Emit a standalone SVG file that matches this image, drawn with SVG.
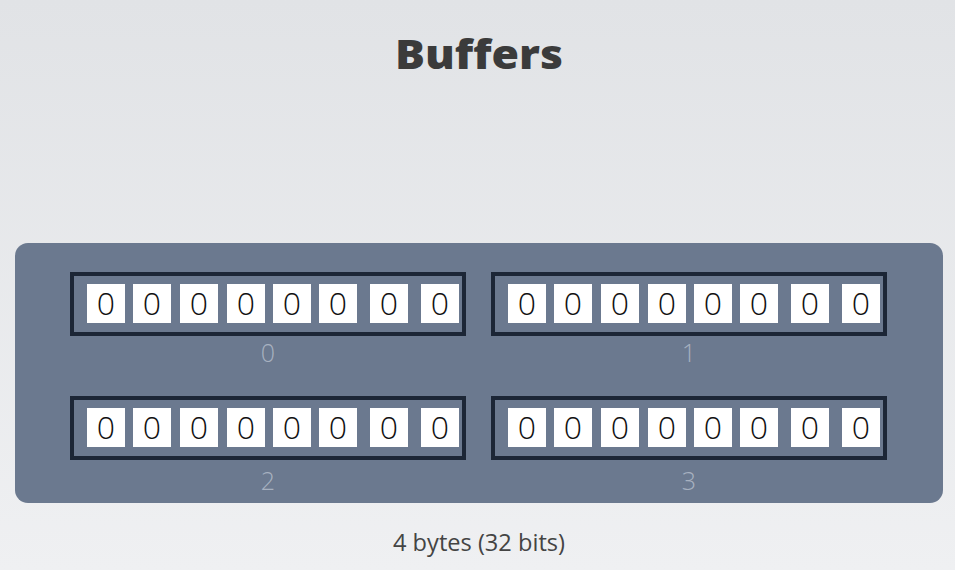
<svg xmlns="http://www.w3.org/2000/svg" xmlns:xlink="http://www.w3.org/1999/xlink" width="955" height="570" viewBox="0 0 955 570">
<defs>
<linearGradient id="bg" x1="0" y1="0" x2="0" y2="1">
<stop offset="0" stop-color="#e1e3e6"/>
<stop offset="1" stop-color="#eff0f2"/>
</linearGradient>
<g id="cells">
<rect class="cell" x="17" y="12" width="38" height="39"/>
<rect class="cell" x="63" y="12" width="38" height="39"/>
<rect class="cell" x="110" y="12" width="38" height="39"/>
<rect class="cell" x="157" y="12" width="38" height="39"/>
<rect class="cell" x="203" y="12" width="38" height="39"/>
<rect class="cell" x="249" y="12" width="38" height="39"/>
<rect class="cell" x="300" y="12" width="38" height="39"/>
<rect class="cell" x="351" y="12" width="38" height="39"/>
<text class="bit" x="36" y="43">0</text>
<text class="bit" x="82" y="43">0</text>
<text class="bit" x="129" y="43">0</text>
<text class="bit" x="176" y="43">0</text>
<text class="bit" x="222" y="43">0</text>
<text class="bit" x="268" y="43">0</text>
<text class="bit" x="319" y="43">0</text>
<text class="bit" x="370" y="43">0</text>
</g>
</defs>
<style>
.byte{fill:#6b798f;stroke:#1c2636;stroke-width:4}
.cell{fill:#ffffff}
.bit{font-family:"Open Sans","Liberation Sans",sans-serif;font-weight:300;font-size:32px;fill:#111;text-anchor:middle}
.idx{font-family:"Open Sans","Liberation Sans",sans-serif;font-weight:300;font-size:25px;fill:#a7b1c0;text-anchor:middle}
</style>
<rect x="0" y="0" width="955" height="570" fill="url(#bg)"/>
<text x="479" y="69" font-family="'Open Sans','Liberation Sans',sans-serif" font-weight="800" font-size="41" fill="#3b3b3b" text-anchor="middle" textLength="168" lengthAdjust="spacingAndGlyphs">Buffers</text>
<rect id="panel" x="15" y="243" width="928" height="260" rx="13" fill="#6b798f"/>
<g id="byte0">
<rect class="byte" x="72" y="274" width="392" height="60"/>
<use xlink:href="#cells" x="70" y="272"/>
<text class="idx" x="268" y="362">0</text>
</g>
<g id="byte1">
<rect class="byte" x="493" y="274" width="392" height="60"/>
<use xlink:href="#cells" x="491" y="272"/>
<text class="idx" x="689" y="362">1</text>
</g>
<g id="byte2">
<rect class="byte" x="72" y="398" width="392" height="60"/>
<use xlink:href="#cells" x="70" y="396"/>
<text class="idx" x="268" y="490">2</text>
</g>
<g id="byte3">
<rect class="byte" x="493" y="398" width="392" height="60"/>
<use xlink:href="#cells" x="491" y="396"/>
<text class="idx" x="689" y="490">3</text>
</g>
<g id="connectors"/>
<text x="479" y="551" font-family="'Open Sans','Liberation Sans',sans-serif" font-size="23" fill="#444" text-anchor="middle" textLength="172" lengthAdjust="spacingAndGlyphs">4 bytes (32 bits)</text>
</svg>
